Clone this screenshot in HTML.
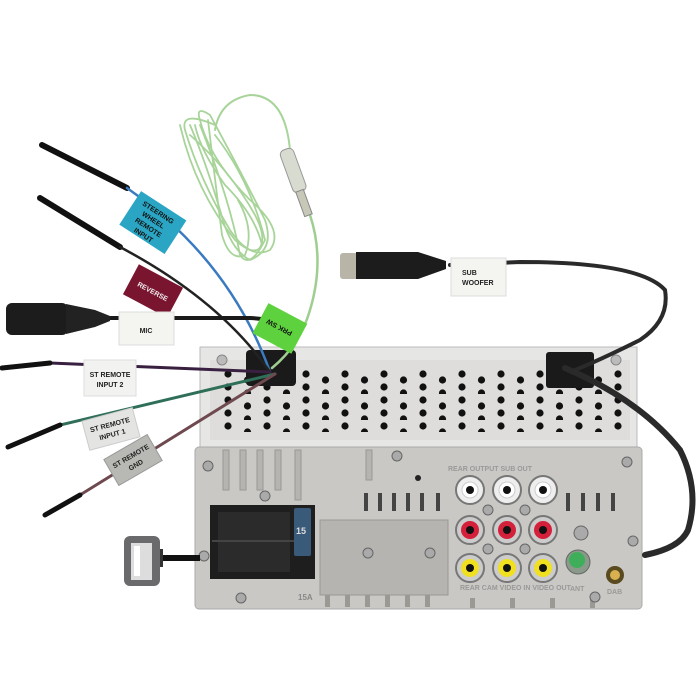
<!DOCTYPE html>
<html><head><style>
html,body{margin:0;padding:0;background:#fff;width:700px;height:700px;overflow:hidden}
text{font-family:"Liberation Sans",sans-serif;font-weight:bold}
</style></head><body>
<svg width="700" height="700" viewBox="0 0 700 700" xmlns="http://www.w3.org/2000/svg">
<defs>
<pattern id="holes" x="222" y="368" width="39" height="26" patternUnits="userSpaceOnUse">
<circle cx="6" cy="6" r="3.6" fill="#111"/>
<circle cx="25.5" cy="12" r="3.6" fill="#111"/>
<circle cx="6" cy="19" r="3.6" fill="#111"/>
<circle cx="25.5" cy="25" r="3.6" fill="#111"/>
</pattern>
</defs>

<!-- upper chassis -->
<rect x="200" y="347" width="437" height="100" fill="#e6e6e4" stroke="#bbb"/>
<rect x="210" y="360" width="420" height="80" fill="#dedddb"/>
<rect x="222" y="368" width="400" height="64" fill="url(#holes)"/>
<circle cx="222" cy="360" r="5" fill="#bbb" stroke="#888"/>
<circle cx="616" cy="360" r="5" fill="#bbb" stroke="#888"/>

<!-- lower panel -->
<rect x="195" y="447" width="447" height="162" rx="4" fill="#c9c8c4" stroke="#aaa"/>
<g fill="#b5b4b0" stroke="#9a9994">
<rect x="223" y="450" width="6" height="40"/><rect x="240" y="450" width="6" height="40"/><rect x="257" y="450" width="6" height="40"/><rect x="275" y="450" width="6" height="40"/><rect x="295" y="450" width="6" height="50"/>
<rect x="366" y="450" width="6" height="30"/>
<rect x="320" y="520" width="128" height="75"/>
</g>
<g fill="#444">
<rect x="364" y="493" width="4" height="18"/><rect x="378" y="493" width="4" height="18"/><rect x="392" y="493" width="4" height="18"/><rect x="406" y="493" width="4" height="18"/><rect x="420" y="493" width="4" height="18"/><rect x="436" y="493" width="4" height="18"/>
<rect x="566" y="493" width="4" height="18"/><rect x="581" y="493" width="4" height="18"/><rect x="596" y="493" width="4" height="18"/><rect x="611" y="493" width="4" height="18"/>
</g>
<g fill="#9a9994">
<rect x="325" y="595" width="5" height="12"/><rect x="345" y="595" width="5" height="12"/><rect x="365" y="595" width="5" height="12"/><rect x="385" y="595" width="5" height="12"/><rect x="405" y="595" width="5" height="12"/><rect x="425" y="595" width="5" height="12"/>
<rect x="470" y="598" width="5" height="10"/><rect x="510" y="598" width="5" height="10"/><rect x="550" y="598" width="5" height="10"/><rect x="590" y="598" width="5" height="10"/>
</g>
<circle cx="418" cy="478" r="3" fill="#222"/>
<g fill="#aaa" stroke="#666">
<circle cx="208" cy="466" r="5"/><circle cx="627" cy="462" r="5"/><circle cx="397" cy="456" r="5"/><circle cx="265" cy="496" r="5"/>
<circle cx="204" cy="556" r="5"/><circle cx="368" cy="553" r="5"/><circle cx="430" cy="553" r="5"/><circle cx="241" cy="598" r="5"/><circle cx="595" cy="597" r="5"/><circle cx="633" cy="541" r="5"/>
<circle cx="488" cy="510" r="5"/><circle cx="525" cy="510" r="5"/><circle cx="488" cy="549" r="5"/><circle cx="525" cy="549" r="5"/><circle cx="581" cy="533" r="7"/>
</g>

<!-- connector -->
<rect x="210" y="505" width="105" height="74" fill="#1e1e1e"/>
<rect x="218" y="512" width="72" height="60" fill="#2b2b2b"/>
<line x1="212" y1="541" x2="295" y2="541" stroke="#444" stroke-width="2"/>
<rect x="294" y="508" width="17" height="48" rx="2" fill="#3a5a7a"/>
<text x="296" y="534" font-size="9" fill="#ddd" font-weight="normal">15</text>
<text x="298" y="600" font-size="8" fill="#888" font-weight="normal">15A</text>

<!-- RCA -->
<g stroke="#777" stroke-width="2">
<circle cx="470" cy="490" r="14" fill="#eee"/><circle cx="507" cy="490" r="14" fill="#eee"/><circle cx="543" cy="490" r="14" fill="#eee"/>
<circle cx="470" cy="530" r="14" fill="#ccc"/><circle cx="507" cy="530" r="14" fill="#ccc"/><circle cx="543" cy="530" r="14" fill="#ccc"/>
<circle cx="470" cy="568" r="14" fill="#ccc"/><circle cx="507" cy="568" r="14" fill="#ccc"/><circle cx="543" cy="568" r="14" fill="#ccc"/>
</g>
<g>
<circle cx="470" cy="490" r="8" fill="#fff" stroke="#ccc"/><circle cx="507" cy="490" r="8" fill="#fff" stroke="#ccc"/><circle cx="543" cy="490" r="8" fill="#fff" stroke="#ccc"/>
<circle cx="470" cy="530" r="9" fill="#d4203a"/><circle cx="507" cy="530" r="9" fill="#d4203a"/><circle cx="543" cy="530" r="9" fill="#d4203a"/>
<circle cx="470" cy="568" r="9" fill="#f0e020"/><circle cx="507" cy="568" r="9" fill="#f0e020"/><circle cx="543" cy="568" r="9" fill="#f0e020"/>
</g>
<g fill="#111"><circle cx="470" cy="490" r="4"/><circle cx="507" cy="490" r="4"/><circle cx="543" cy="490" r="4"/><circle cx="470" cy="530" r="4"/><circle cx="507" cy="530" r="4"/><circle cx="543" cy="530" r="4"/><circle cx="470" cy="568" r="4"/><circle cx="507" cy="568" r="4"/><circle cx="543" cy="568" r="4"/></g>
<circle cx="578" cy="562" r="12" fill="#8a9a8a" stroke="#666"/><circle cx="577" cy="560" r="8" fill="#3fae5a"/>
<circle cx="615" cy="575" r="9" fill="#5a4a20"/><circle cx="615" cy="575" r="5" fill="#d8b050"/>
<text x="460" y="590" font-size="7" fill="#999" font-weight="normal">REAR CAM  VIDEO IN  VIDEO OUT</text>
<text x="448" y="471" font-size="7" fill="#999" font-weight="normal">REAR OUTPUT  SUB OUT</text>
<text x="570" y="591" font-size="7" fill="#999" font-weight="normal">ANT</text>
<text x="607" y="594" font-size="7" fill="#999" font-weight="normal">DAB</text>

<!-- USB -->
<line x1="155" y1="558" x2="200" y2="558" stroke="#111" stroke-width="6"/>
<rect x="158" y="549" width="5" height="18" fill="#333"/>
<rect x="124" y="536" width="36" height="50" rx="6" fill="#6a6a6c"/>
<rect x="131" y="543" width="21" height="37" fill="#ddd"/>
<rect x="134" y="546" width="6" height="30" fill="#fff"/>

<!-- grommets -->
<rect x="246" y="350" width="50" height="36" rx="4" fill="#1a1a1a"/>
<rect x="546" y="352" width="48" height="36" rx="3" fill="#1a1a1a"/>

<!-- wires -->
<g fill="none" stroke-linecap="round">
<path d="M42 145 L127 188" stroke="#111" stroke-width="6"/>
<path d="M127 188 Q230 260 270 372" stroke="#3a7ac0" stroke-width="2.5"/>
<path d="M40 198 L120 247" stroke="#111" stroke-width="6"/>
<path d="M120 247 Q220 300 270 372" stroke="#222" stroke-width="2.5"/>
<path d="M110 318 L250 318 Q300 320 290 350" stroke="#1a1a1a" stroke-width="4"/>
<path d="M2 368 L50 363 L270 372" stroke="#3a2040" stroke-width="3"/>
<path d="M8 447 L60 425 L275 374" stroke="#2f6f5a" stroke-width="3"/>
<path d="M8 447 L60 425" stroke="#111" stroke-width="5"/>
<path d="M45 515 L80 495 L275 374" stroke="#6e4a50" stroke-width="3"/>
<path d="M45 515 L80 495" stroke="#111" stroke-width="5"/>
<path d="M2 368 L50 363" stroke="#111" stroke-width="5"/>
<!-- green wire -->
<path d="M272 368 Q300 345 310 310 Q325 260 310 215" stroke="#9fce90" stroke-width="2.5"/>
<path d="M290 150 Q285 95 250 95 Q220 100 215 130" stroke="#a8d49a" stroke-width="2"/>
<g stroke="#a8d49a" stroke-width="1.8">
<path d="M215 125 Q180 110 185 130 Q200 180 230 230 Q250 260 270 250 Q285 230 250 200 Q210 160 200 120 Q195 105 210 115 Q240 170 265 220 Q275 250 250 260 Q230 250 220 210 Q205 160 190 125"/>
<path d="M200 125 Q230 200 240 255 Q250 270 265 240 Q250 180 215 135"/>
<path d="M180 125 Q195 190 235 240 Q255 258 262 245 Q255 215 225 185 Q200 150 195 125"/>
<path d="M208 120 Q215 180 222 235 Q230 262 245 255 Q255 230 238 200"/>
<path d="M190 135 Q230 170 255 215 Q268 240 258 250"/>
</g>
<!-- sub cable -->
<path d="M450 265 L520 262 Q640 262 665 290 Q670 320 640 340 Q600 360 575 370" stroke="#2a2a2a" stroke-width="4"/>
<path d="M565 368 Q640 400 680 450 Q700 490 688 530 Q680 548 645 555" stroke="#2a2a2a" stroke-width="6"/>
</g>
<!-- fuse holder -->
<rect x="286" y="148" width="14" height="45" rx="5" fill="#d8dcd0" stroke="#999" transform="rotate(-20 293 170)"/>
<rect x="300" y="190" width="8" height="26" fill="#c8c8b8" stroke="#888" transform="rotate(-20 304 203)"/>

<!-- mic plug -->
<rect x="6" y="303" width="62" height="32" rx="6" fill="#1c1c1c"/>
<path d="M66 304 L95 310 L110 316 L110 321 L95 327 L66 334 Z" fill="#222"/>
<!-- sub plug -->
<rect x="340" y="253" width="18" height="26" rx="3" fill="#b8b4a8"/>
<path d="M356 252 L418 252 L446 261 L446 269 L418 279 L356 279 Z" fill="#1c1c1c"/>

<!-- labels -->
<g transform="rotate(33 152 222)"><rect x="126" y="202" width="54" height="40" fill="#2aa6c4"/>
<text x="152" y="213" font-size="7" text-anchor="middle" fill="#111">STEERING</text><text x="152" y="222" font-size="7" text-anchor="middle" fill="#111">WHEEL</text><text x="152" y="231" font-size="7" text-anchor="middle" fill="#111">REMOTE</text><text x="152" y="240" font-size="7" text-anchor="middle" fill="#111">INPUT</text></g>
<g transform="rotate(28 153 291)"><rect x="128" y="274" width="50" height="34" fill="#7a1530"/>
<text x="153" y="294" font-size="7" text-anchor="middle" fill="#eee">REVERSE</text></g>
<rect x="119" y="312" width="55" height="33" fill="#f4f4f0" stroke="#ddd"/>
<text x="146" y="333" font-size="7" text-anchor="middle" fill="#222">MIC</text>
<rect x="84" y="360" width="52" height="36" fill="#f2f2f0" stroke="#ddd"/>
<text x="110" y="377" font-size="7" text-anchor="middle" fill="#222">ST REMOTE</text><text x="110" y="387" font-size="7" text-anchor="middle" fill="#222">INPUT 2</text>
<g transform="rotate(-15 111 429)"><rect x="85" y="414" width="52" height="30" fill="#e4e4e2" stroke="#ccc"/>
<text x="111" y="427" font-size="7" text-anchor="middle" fill="#222">ST REMOTE</text><text x="111" y="437" font-size="7" text-anchor="middle" fill="#222">INPUT 1</text></g>
<g transform="rotate(-30 133 460)"><rect x="108" y="445" width="50" height="30" fill="#b8b8b4" stroke="#999"/>
<text x="133" y="458" font-size="7" text-anchor="middle" fill="#222">ST REMOTE</text><text x="133" y="468" font-size="7" text-anchor="middle" fill="#222">GND</text></g>
<g transform="rotate(28 279 328)"><rect x="258" y="311" width="44" height="34" fill="#5ed23e"/>
<text x="279" y="331" font-size="7" text-anchor="middle" fill="#111" transform="rotate(180 279 328)">PRK SW</text></g>
<rect x="451" y="258" width="55" height="38" fill="#f4f4f0" stroke="#ddd"/>
<text x="462" y="275" font-size="7" fill="#222">SUB</text><text x="462" y="285" font-size="7" fill="#222">WOOFER</text>
</svg>
</body></html>
